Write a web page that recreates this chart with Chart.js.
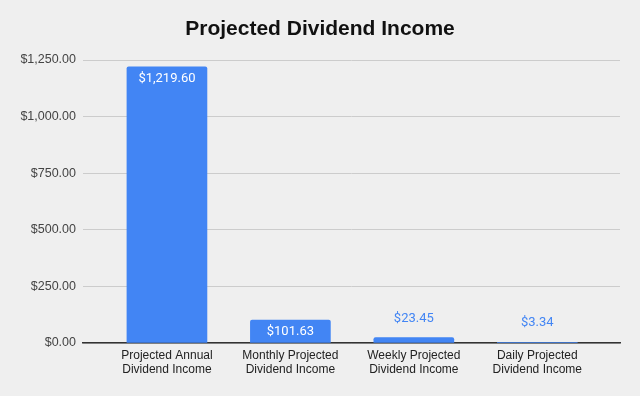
<!DOCTYPE html>
<html>
<head>
<meta charset="utf-8">
<script src="https://cdn.jsdelivr.net/npm/chart.js@4.4.1/dist/chart.umd.min.js"></script>
<style>
html,body{margin:0;padding:0;background:#efefef;}
#wrap{width:640px;height:396px;}
</style>
</head>
<body>
<div id="wrap"><canvas id="c" width="640" height="396"></canvas></div>
<script>
const chartTitle = "Projected Dividend Income";
const categories = [
  ["Projected Annual", "Dividend Income"],
  ["Monthly Projected", "Dividend Income"],
  ["Weekly Projected", "Dividend Income"],
  ["Daily Projected", "Dividend Income"]
];
const values = [1219.60, 101.63, 23.45, 3.34];
const yTickValues = [0, 250, 500, 750, 1000, 1250];

const BAR_COLOR = "#4285F4";
const fmt = v => "$" + v.toLocaleString("en-US", {minimumFractionDigits: 2, maximumFractionDigits: 2});

const bgPlugin = {
  id: "bg",
  beforeDraw(chart) {
    const ctx = chart.ctx;
    ctx.save();
    ctx.fillStyle = "#efefef";
    ctx.fillRect(0, 0, chart.width, chart.height);
    ctx.fillStyle = "#111";
    ctx.font = "bold 21px 'Liberation Sans', Arial, sans-serif";
    ctx.textAlign = "center";
    ctx.textBaseline = "middle";
    ctx.fillText(chartTitle, 320, 29);
    ctx.restore();
  }
};

const labelPlugin = {
  id: "barLabels",
  afterDatasetsDraw(chart) {
    const ctx = chart.ctx;
    const meta = chart.getDatasetMeta(0);
    ctx.save();
    ctx.font = "13px Roboto, 'Liberation Sans', sans-serif";
    ctx.textAlign = "center";
    ctx.textBaseline = "middle";
    meta.data.forEach((bar, i) => {
      const h = bar.base - bar.y;
      const text = fmt(values[i]);
      if (h > 15) {
        ctx.fillStyle = "#ffffff";
        ctx.fillText(text, bar.x, bar.y + 11.5);
      } else {
        ctx.fillStyle = BAR_COLOR;
        ctx.fillText(text, bar.x, bar.y - 19);
      }
    });
    ctx.restore();
  }
};

new Chart(document.getElementById("c"), {
  type: "bar",
  data: {
    datasets: [{
      data: values.map((v, i) => ({x: i, y: v})),
      backgroundColor: BAR_COLOR,
      barThickness: 80,
      borderRadius: {topLeft: 2, topRight: 2, bottomLeft: 0, bottomRight: 0},
      borderSkipped: "bottom"
    }]
  },
  options: {
    responsive: false,
    animation: false,
    devicePixelRatio: 1,
    layout: {padding: {top: 60, right: 20, bottom: 0, left: 0}},
    plugins: {
      legend: {display: false},
      title: {display: false},
      tooltip: {enabled: false}
    },
    scales: {
      x: {
        type: "linear",
        offset: false,
        min: -0.68,
        max: 3.67,
        afterBuildTicks(scale) {
          scale.ticks = categories.map((c, i) => ({value: i}));
        },
        afterFit(scale) { scale.height = 53; },
        grid: {display: false, drawTicks: false, offset: false},
        border: {display: true, color: "#333333", width: 1.5},
        ticks: {
          autoSkip: false,
          maxRotation: 0,
          padding: 6,
          color: "#222222",
          font: {family: "'Liberation Sans', Arial, sans-serif", size: 12, lineHeight: 1.15},
          callback: (v) => categories[v] || ""
        }
      },
      y: {
        min: 0,
        max: 1250,
        afterBuildTicks(scale) {
          scale.ticks = yTickValues.map(v => ({value: v}));
        },
        afterFit(scale) { scale.width = 83; },
        grid: {color: "#cccccc", lineWidth: 1, drawTicks: false},
        border: {display: false},
        ticks: {
          padding: 7,
          color: "#444444",
          font: {family: "'Liberation Sans', Arial, sans-serif", size: 12.5},
          callback: v => fmt(v)
        }
      }
    }
  },
  plugins: [bgPlugin, labelPlugin]
});
</script>
</body>
</html>
